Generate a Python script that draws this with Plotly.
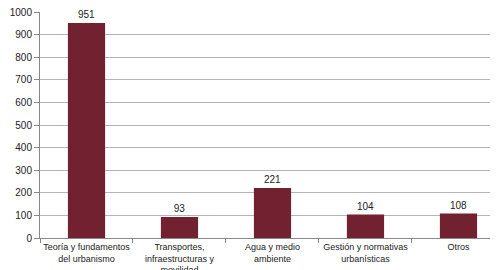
import plotly.graph_objects as go

categories = ["Teoría y fundamentos<br>del urbanismo",
              "Transportes,<br>infraestructuras y<br>movilidad",
              "Agua y medio<br>ambiente",
              "Gestión y normativas<br>urbanísticas",
              "Otros"]
values = [951, 93, 221, 104, 108]
y_ticks = [0, 100, 200, 300, 400, 500, 600, 700, 800, 900, 1000]

fig = go.Figure(go.Bar(
    x=categories, y=values, width=0.4,
    marker=dict(color="#722130", line=dict(width=0)),
    text=[str(v) for v in values], textposition="outside",
    textfont=dict(size=10, color="#222"), cliponaxis=False,
))

# page body has an 8px default margin, so offsets compensate for it
fig.update_layout(
    width=490, height=270,
    margin=dict(l=32, r=0, t=4, b=40),
    plot_bgcolor="white", paper_bgcolor="white",
    font=dict(family="Liberation Sans, Arial", size=10, color="#222"),
    showlegend=False,
    bargap=0.6,
)
fig.update_yaxes(range=[0, 1000], tickvals=y_ticks, showgrid=True,
                 gridcolor="#b4b4b4", gridwidth=1, showline=True,
                 linecolor="#888", ticks="outside", ticklen=5, tickcolor="#888",
                 tickfont=dict(size=10), zeroline=False, automargin=False,
                 ticklabeloverflow="allow")
fig.update_xaxes(range=[-0.5, 4.425], showline=True, linecolor="#888",
                 ticks="outside", tickson="boundaries", ticklen=4,
                 tickcolor="#888", tickfont=dict(size=9), tickangle=0,
                 automargin=False)

fig.write_html("out.html")
